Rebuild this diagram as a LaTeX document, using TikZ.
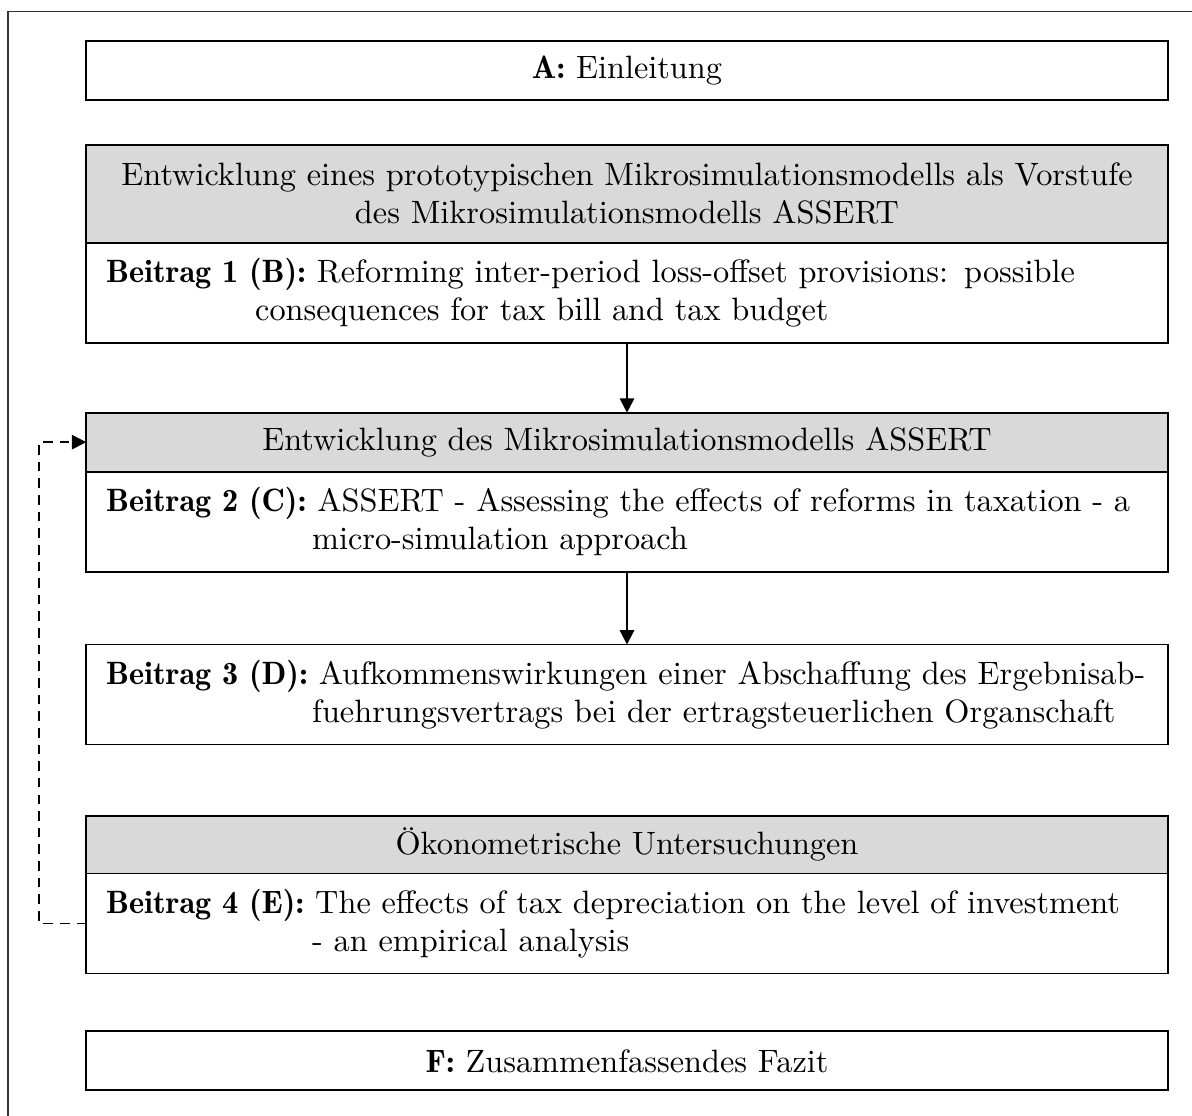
\documentclass[tikz,border=0pt]{standalone}
\usepackage{fontspec}
\setmainfont{lmroman10-regular.otf}[BoldFont=lmromandemi10-regular.otf]
\usetikzlibrary{positioning, arrows.meta}

\newcommand{\beitrag}[4]{\mbox{\textbf{#1} #2}\\\hspace*{#3}#4}

\begin{document}
\begin{tikzpicture}[x=0.3125pt, y=-0.3125pt, >={Triangle[length=4.5pt,width=4.5pt]},
    every node/.style={font=\fontsize{10.1}{12}\selectfont},
    chapter/.style={draw, line width=0.6pt, outer sep=0pt, minimum width=338pt, minimum height=18.4pt, inner sep=0pt, text width=325.6pt, align=center},
    header/.style={chapter, fill=gray!30},
    paper/.style={chapter, align=left, minimum height=31.25pt},
    link/.style={->, line width=0.6pt}]
    \useasboundingbox (0,0) rectangle (1192,1115);
    % outer frame
    \draw[line width=0.5pt, black!80] (8,1130) -- (8,11.5) -- (1210,11.5);
    % chapters
    \node[chapter, anchor=north] (einl) at (627,41) {\textbf{A:} Einleitung};
    \node[header, minimum height=30.6pt, below=14pt of einl] (headB) {Entwicklung eines prototypischen Mikrosimulationsmodells als Vorstufe\\ des Mikrosimulationsmodells ASSERT};
    \node[paper, below=0pt of headB] (paperB) {\beitrag{Beitrag 1 (B):}{Reforming inter-period loss-offset provisions: possible}{46.6pt}{consequences for tax bill and tax budget}};
    \node[header, below=21.9pt of paperB] (headC) {Entwicklung des Mikrosimulationsmodells ASSERT};
    \node[paper, below=0pt of headC] (paperC) {\beitrag{Beitrag 2 (C):}{ASSERT - Assessing the effects of reforms in taxation - a}{64.4pt}{micro-simulation approach}};
    \node[paper, below=22.8pt of paperC] (paperD) {\beitrag{Beitrag 3 (D):}{Aufkommenswirkungen einer Abschaffung des Ergebnisab-}{64.4pt}{fuehrungsvertrags bei der ertragsteuerlichen Organschaft}};
    \node[header, minimum height=18.1pt, below=22.2pt of paperD] (headE) {Ökonometrische Untersuchungen};
    \node[paper, below=0pt of headE] (paperE) {\beitrag{Beitrag 4 (E):}{The effects of tax depreciation on the level of investment}{64.4pt}{- an empirical analysis}};
    \node[chapter, below=18.1pt of paperE] (fazit) {\textbf{F:} Zusammenfassendes Fazit};
    % connectors
    \draw[link] (paperB) -- (headC);
    \draw[link] (paperC) -- (paperD);
    \draw[link, dashed, dash pattern=on 3pt off 2.2pt] (paperE.west) -- ++(-14.7pt,0) |- (headC.west);
\end{tikzpicture}
\end{document}
